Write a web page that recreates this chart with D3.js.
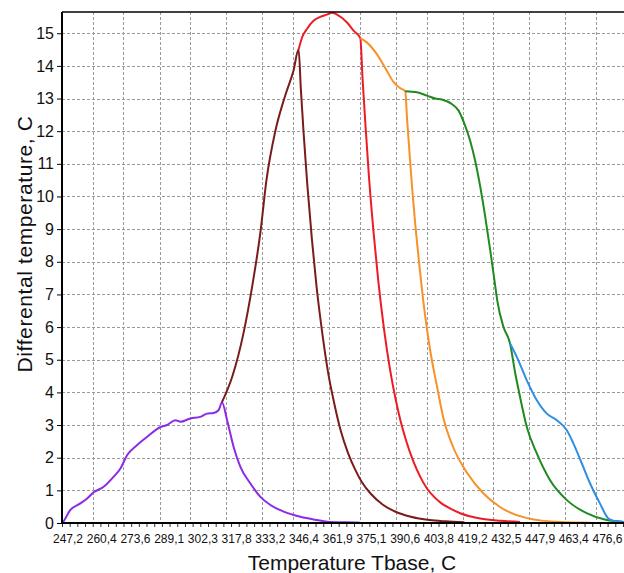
<!DOCTYPE html>
<html>
<head>
<meta charset="utf-8">
<script src="https://cdn.jsdelivr.net/npm/d3@7"></script>
<style>
  body { margin: 0; background: #fff; }
  text { font-family: "Liberation Sans", Arial, sans-serif; }
</style>
</head>
<body>
<div id="app"></div>
<script>
/*global d3*/

// tick values on the temperature axis + their labels (comma decimal like the original)
const xTicks = [247.2, 260.4, 273.6, 289.1, 302.3, 317.8, 333.2, 346.4, 361.9, 375.1, 390.6, 403.8, 419.2, 432.5, 447.9, 463.4, 476.6];
const xTickLabels = ["247,2", "260,4", "273,6", "289,1", "302,3", "317,8", "333,2", "346,4", "361,9", "375,1", "390,6", "403,8", "419,2", "432,5", "447,9", "463,4", "476,6"];
const yTicks = [0, 1, 2, 3, 4, 5, 6, 7, 8, 9, 10, 11, 12, 13, 14, 15];

// each curve is [Tbase, dT]
const purple = [[247.2,0],[247.5,0.02],[250.8,0.4],[255.1,0.6],[258.0,0.75],[260.8,0.94],[265.1,1.11],[269.4,1.42],[272.3,1.67],[275.2,2.08],[279.5,2.39],[283.8,2.64],[289.5,2.94],[292.3,3.0],[295.9,3.15],[298.1,3.1],[302.3,3.2],[306.6,3.25],[309.5,3.35],[312.3,3.37],[314.5,3.46],[315.9,3.7],
  [318.1,3.15],[320.9,2.33],[323.8,1.72],[328.1,1.21],[332.4,0.8],[336.7,0.55],[342.4,0.35],[349.6,0.19],[356.7,0.09],[361.0,0.04],[368.8,0.02],[375.3,0.01]];
const maroon = [[315.9,3.7],[320.4,4.5],[325.1,5.8],[329.0,7.3],[332.4,8.9],[335.0,10.5],[338.8,12.0],[343.1,13.1],[346.6,13.85],[348.8,14.5],
  [349.8,13.25],[351.0,11.9],[352.5,10.4],[354.5,8.7],[356.5,7.25],[359.0,5.8],[361.5,4.6],[364.0,3.7],[367.0,2.8],[370.0,2.15],[373.0,1.65],[376.0,1.25],[380.0,0.88],[385.0,0.56],[390.0,0.36],[397.0,0.19],[405.0,0.09],[412.0,0.05],[420.0,0.02]];
const red = [[348.8,14.5],[350.3,14.87],[352.4,15.13],[355.2,15.38],[358.1,15.5],[360.9,15.57],[363.1,15.63],[365.3,15.57],[369.6,15.33],[372.4,15.08],[375.3,14.85],
  [376.3,13.57],[377.5,12.2],[379.0,10.62],[381.0,8.9],[383.0,7.43],[385.5,5.93],[388.0,4.73],[390.5,3.78],[392.4,3.18],[395.0,2.52],[398.0,1.9],[401.0,1.42],[404.0,1.05],[407.0,0.8],[410.0,0.61],[414.0,0.44],[418.2,0.3],[426.8,0.14],[435.3,0.07],[443.9,0.03]];
const orange = [[375.3,14.85],[378.1,14.72],[382.4,14.36],[386.7,13.85],[389.6,13.5],[392.4,13.32],[394.6,13.22],
  [395.4,12.36],[396.4,11.37],[397.6,10.22],[399.0,9.07],[400.6,7.93],[402.3,6.82],[405.3,5.29],[408.3,4.16],[410.9,3.24],[415.2,2.32],[421.2,1.53],[428.0,0.92],[435.3,0.49],[446.9,0.15],[461.1,0.03],[474.0,0.01]];
const green = [[394.6,13.22],[399.6,13.19],[403.9,13.09],[407.5,13.0],[410.3,12.97],[414.6,12.83],[417.5,12.63],[420.3,12.17],[422.5,11.7],[424.6,11.1],[426.8,10.3],[428.9,9.4],[431.1,8.35],[433.2,7.28],[434.1,6.82],[436.8,6.0],[439.6,5.5],
  [441.8,4.6],[443.9,3.86],[446.8,2.94],[451.1,2.13],[456.8,1.31],[464.0,0.7],[472.5,0.3],[481.1,0.09],[488.1,0.04]];
const blue = [[439.6,5.5],[442.5,5.09],[446.8,4.37],[451.1,3.76],[455.4,3.35],[459.7,3.15],[464.0,2.84],[466.8,2.44],[470.4,1.83],[474.0,1.21],[478.2,0.6],[481.8,0.14],[484.0,0.07],[488.5,0.03]];

const series = [
  { name: 'purple', data: purple, color: '#8a2be8' },
  { name: 'maroon', data: maroon, color: '#7a1c1c' },
  { name: 'red', data: red, color: '#ec1c24' },
  { name: 'orange', data: orange, color: '#f7922a' },
  { name: 'green', data: green, color: '#1f8a1f' },
  { name: 'blue', data: blue, color: '#2f8fe3' }
];

(() => {
  const WIDTH = 624;
  const HEIGHT = 573;
  const LEFT = 62, TOP = 12, BOTTOM = 523;

  const svg = d3.create('svg')
    .attr('width', WIDTH)
    .attr('height', HEIGHT)
    .attr('viewBox', [0, 0, WIDTH, HEIGHT]);

  // x is linear in temperature, plot runs off the right edge
  const x = d3.scaleLinear().domain([247.2, 489.4]).range([LEFT, 626]);
  const y = d3.scaleLinear().domain([0, 15.65]).range([BOTTOM, TOP]);
  // the labels sit evenly spaced under the axis
  const xLab = d3.scalePoint().domain(xTickLabels).range([67.5, 607]);

  // grid
  const grid = svg.append('g')
    .attr('stroke', '#9a9a9a')
    .attr('stroke-width', 1)
    .attr('stroke-dasharray', '3,2');
  grid.selectAll('line.h')
    .data(yTicks.filter(d => d > 0))
    .join('line')
    .attr('class', 'h')
    .attr('x1', LEFT).attr('x2', WIDTH)
    .attr('y1', d => Math.round(y(d)) + 0.5)
    .attr('y2', d => Math.round(y(d)) + 0.5);
  grid.selectAll('line.v')
    .data(xTicks.slice(1))
    .join('line')
    .attr('class', 'v')
    .attr('x1', d => Math.round(x(d)) + 0.5)
    .attr('x2', d => Math.round(x(d)) + 0.5)
    .attr('y1', TOP).attr('y2', BOTTOM);

  // curves
  svg.append('clipPath').attr('id', 'plot')
    .append('rect').attr('x', LEFT).attr('y', TOP - 2).attr('width', WIDTH - LEFT).attr('height', BOTTOM - TOP + 2);

  // monotoneX keeps the sharp drops but rounds the readings a bit
  const line = d3.line().curve(d3.curveMonotoneX).x(d => x(d[0])).y(d => y(d[1]));

  svg.append('g')
    .attr('clip-path', 'url(#plot)')
    .selectAll('path')
    .data(series)
    .join('path')
    .attr('fill', 'none')
    .attr('stroke', d => d.color)
    .attr('stroke-width', 2)
    .attr('stroke-linejoin', 'round')
    .attr('d', d => line(d.data));

  // frame: top border, left + bottom axis lines
  svg.append('line').attr('x1', LEFT).attr('x2', WIDTH).attr('y1', TOP).attr('y2', TOP)
    .attr('stroke', '#000').attr('stroke-width', 1.5);

  // y axis
  const yAxis = svg.append('g')
    .attr('transform', `translate(${LEFT},0)`)
    .call(d3.axisLeft(y).tickValues(yTicks).tickSize(5).tickPadding(3).tickFormat(d3.format('d')));
  yAxis.select('.domain').attr('stroke-width', 2).attr('d', `M0,${TOP}V${BOTTOM}`);
  yAxis.selectAll('.tick line').attr('stroke-width', 1);
  yAxis.selectAll('text').attr('font-size', 16).attr('fill', '#111').style('font-family', '"Liberation Sans", Arial, sans-serif');

  // minor ticks under the x axis
  const minor = svg.append('g')
    .attr('transform', `translate(0,${BOTTOM})`)
    .call(d3.axisBottom(x).tickValues(d3.range(247.2, 489, 3.3)).tickSize(4).tickFormat(''));
  minor.select('.domain').remove();
  minor.selectAll('.tick line').attr('stroke', '#333');

  svg.append('line').attr('x1', LEFT - 1).attr('x2', WIDTH).attr('y1', BOTTOM).attr('y2', BOTTOM)
    .attr('stroke', '#000').attr('stroke-width', 2);

  // x tick labels
  const xAxis = svg.append('g')
    .attr('transform', `translate(0,${BOTTOM})`)
    .call(d3.axisBottom(xLab).tickSize(0).tickPadding(11));
  xAxis.select('.domain').remove();
  xAxis.selectAll('text').attr('font-size', 12).attr('fill', '#111').style('font-family', '"Liberation Sans", Arial, sans-serif');

  // axis titles
  svg.append('text')
    .attr('x', 352).attr('y', 570)
    .attr('text-anchor', 'middle')
    .attr('font-size', 21)
    .attr('fill', '#111')
    .text('Temperature Tbase, C');

  svg.append('text')
    .attr('transform', 'translate(32,244) rotate(-90)')
    .attr('text-anchor', 'middle')
    .attr('font-size', 21)
    .attr('letter-spacing', 0.6)
    .attr('fill', '#111')
    .text('Differental temperature, C');

  d3.select('#app').append(() => svg.node());
})();
</script>
</body>
</html>
